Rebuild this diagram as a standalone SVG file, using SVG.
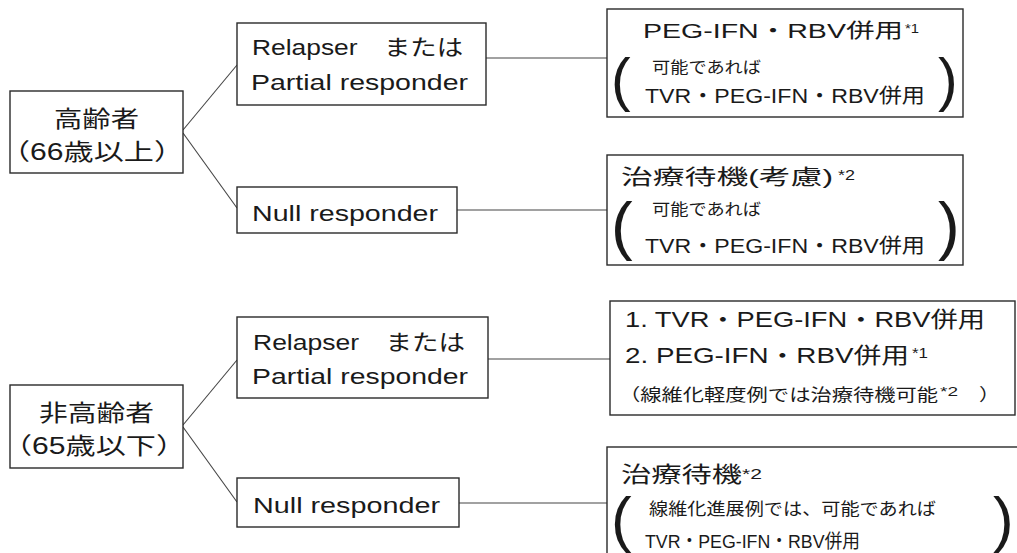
<svg xmlns="http://www.w3.org/2000/svg" width="1017" height="553" viewBox="0 0 1017 553">
<style>
.box{fill:#fff;stroke:#2a2a2a;stroke-width:1.4}
.t{font-family:"Liberation Sans","Noto Sans CJK JP",sans-serif;fill:#1a1a1a}
.p{font-family:"Liberation Sans","Noto Sans CJK JP",sans-serif;fill:#1a1a1a}
.conn line{stroke:#444;stroke-width:1.1}
</style>
<rect width="1017" height="553" fill="#fff"/>
<g id="connectors" class="conn">
<line x1="183" y1="130" x2="237" y2="65"/>
<line x1="183" y1="133" x2="237" y2="208"/>
<line x1="486" y1="58" x2="607" y2="58"/>
<line x1="457" y1="210" x2="607" y2="210"/>
<line x1="183" y1="425" x2="237" y2="360"/>
<line x1="183" y1="427" x2="237" y2="502"/>
<line x1="488" y1="359" x2="610" y2="359"/>
<line x1="459" y1="503" x2="607" y2="503"/>
</g>
<g id="elderly">
<rect class="box" x="10" y="91" width="173" height="82"/>
<text class="t" x="54" y="127" font-size="23" textLength="85" lengthAdjust="spacingAndGlyphs">高齢者</text>
<text class="t" x="0" y="160" font-size="23" textLength="184" lengthAdjust="spacingAndGlyphs">（66歳以上）</text>
</g>
<g id="elderly-relapser">
<rect class="box" x="237" y="23" width="249" height="82"/>
<text class="t" x="252" y="55" font-size="22" textLength="211" lengthAdjust="spacingAndGlyphs">Relapser　または</text>
<text class="t" x="251" y="90" font-size="22" textLength="217" lengthAdjust="spacingAndGlyphs">Partial responder</text>
</g>
<g id="elderly-null">
<rect class="box" x="237" y="187" width="220" height="46"/>
<text class="t" x="252" y="221" font-size="22" textLength="186" lengthAdjust="spacingAndGlyphs">Null responder</text>
</g>
<g id="elderly-relapser-result">
<rect class="box" x="607" y="9" width="356" height="108"/>
<text class="t" x="643" y="38" font-size="20" textLength="260" lengthAdjust="spacingAndGlyphs">PEG-IFN・RBV併用</text>
<text class="t" x="905" y="33" font-size="12" textLength="14" lengthAdjust="spacingAndGlyphs">*1</text>
<text class="p" x="611" y="100" font-size="59">(</text>
<text class="t" x="652" y="73" font-size="16" textLength="109" lengthAdjust="spacingAndGlyphs">可能であれば</text>
<text class="t" x="645" y="103" font-size="20" textLength="280" lengthAdjust="spacingAndGlyphs">TVR・PEG-IFN・RBV併用</text>
<text class="p" x="938" y="100" font-size="59">)</text>
</g>
<g id="elderly-null-result">
<rect class="box" x="607" y="155" width="356" height="110"/>
<text class="t" x="621" y="184" font-size="21" textLength="212" lengthAdjust="spacingAndGlyphs">治療待機(考慮)</text>
<text class="t" x="838" y="180" font-size="14" textLength="17" lengthAdjust="spacingAndGlyphs">*2</text>
<text class="p" x="611" y="248" font-size="65">(</text>
<text class="t" x="652" y="215" font-size="16" textLength="109" lengthAdjust="spacingAndGlyphs">可能であれば</text>
<text class="t" x="645" y="253" font-size="20" textLength="280" lengthAdjust="spacingAndGlyphs">TVR・PEG-IFN・RBV併用</text>
<text class="p" x="938" y="248" font-size="65">)</text>
</g>
<g id="nonelderly">
<rect class="box" x="10" y="385" width="173" height="83"/>
<text class="t" x="39" y="421" font-size="23" textLength="115" lengthAdjust="spacingAndGlyphs">非高齢者</text>
<text class="t" x="2" y="454" font-size="23" textLength="184" lengthAdjust="spacingAndGlyphs">（65歳以下）</text>
</g>
<g id="nonelderly-relapser">
<rect class="box" x="237" y="317" width="251" height="81"/>
<text class="t" x="253" y="350" font-size="22" textLength="212" lengthAdjust="spacingAndGlyphs">Relapser　または</text>
<text class="t" x="252" y="384" font-size="22" textLength="216" lengthAdjust="spacingAndGlyphs">Partial responder</text>
</g>
<g id="nonelderly-null">
<rect class="box" x="237" y="478" width="222" height="49"/>
<text class="t" x="253" y="513" font-size="22" textLength="187" lengthAdjust="spacingAndGlyphs">Null responder</text>
</g>
<g id="nonelderly-relapser-result">
<rect class="box" x="610" y="301" width="405" height="114"/>
<text class="t" x="625" y="327" font-size="22" textLength="360" lengthAdjust="spacingAndGlyphs">1. TVR・PEG-IFN・RBV併用</text>
<text class="t" x="625" y="363" font-size="22" textLength="284" lengthAdjust="spacingAndGlyphs">2. PEG-IFN・RBV併用</text>
<text class="t" x="912" y="358" font-size="15" textLength="16" lengthAdjust="spacingAndGlyphs">*1</text>
<text class="t" x="619" y="401" font-size="17" textLength="319" lengthAdjust="spacingAndGlyphs">（線維化軽度例では治療待機可能</text>
<text class="t" x="940" y="396" font-size="13" textLength="18" lengthAdjust="spacingAndGlyphs">*2</text>
<text class="t" x="979" y="401" font-size="17" textLength="21" lengthAdjust="spacingAndGlyphs">）</text>
</g>
<g id="nonelderly-null-result">
<rect class="box" x="607" y="447" width="420" height="120"/>
<text class="t" x="621" y="482" font-size="22" textLength="121" lengthAdjust="spacingAndGlyphs">治療待機</text>
<text class="t" x="742" y="479" font-size="14" textLength="20" lengthAdjust="spacingAndGlyphs">*2</text>
<text class="p" x="611" y="540" font-size="62">(</text>
<text class="t" x="649" y="515" font-size="17" textLength="287" lengthAdjust="spacingAndGlyphs">線維化進展例では、可能であれば</text>
<text class="t" x="645" y="548" font-size="19" textLength="215" lengthAdjust="spacingAndGlyphs">TVR・PEG-IFN・RBV併用</text>
<text class="p" x="993" y="540" font-size="62">)</text>
</g>
</svg>
